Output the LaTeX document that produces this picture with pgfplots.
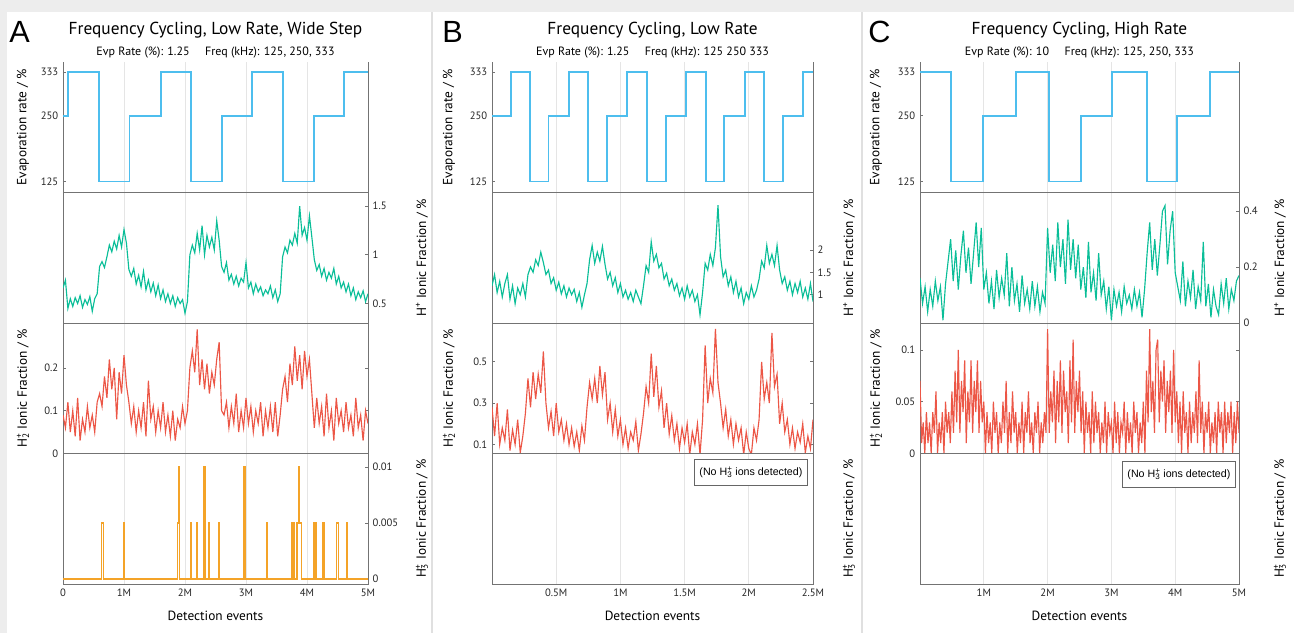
\documentclass[border=0pt]{standalone}
\usepackage{fontspec}
\setmainfont{PT Sans}
\newfontfamily\arialfont{Liberation Sans}
\usepackage{pgfplots}
\usepackage{pgfplotstable}
\pgfplotsset{compat=1.18}

\definecolor{evpblue}{RGB}{77,190,238}
\definecolor{hgreen}{RGB}{10,190,152}
\definecolor{hred}{RGB}{236,86,70}
\definecolor{horange}{RGB}{244,163,40}

% panel A: x, H+, H2+
\pgfplotstableread{
x g r
0.00 0.66 0.09
0.04 0.74 0.06
0.08 0.45 0.12
0.12 0.55 0.05
0.16 0.47 0.10
0.20 0.56 0.04
0.24 0.50 0.13
0.28 0.58 0.03
0.32 0.46 0.08
0.36 0.54 0.05
0.40 0.49 0.11
0.44 0.57 0.06
0.48 0.42 0.09
0.52 0.55 0.05
0.56 0.60 0.12
0.60 0.88 0.14
0.64 0.93 0.11
0.68 0.87 0.18
0.72 0.98 0.13
0.76 1.10 0.22
0.80 1.03 0.15
0.84 1.14 0.20
0.88 1.06 0.08
0.92 1.20 0.19
0.96 1.08 0.14
1.00 1.26 0.23
1.04 1.12 0.16
1.08 0.85 0.12
1.12 0.78 0.07
1.16 0.86 0.11
1.20 0.70 0.05
1.24 0.79 0.10
1.28 0.67 0.06
1.32 0.83 0.12
1.36 0.64 0.04
1.40 0.74 0.17
1.44 0.62 0.08
1.48 0.71 0.11
1.52 0.58 0.05
1.56 0.69 0.10
1.60 0.55 0.06
1.64 0.64 0.12
1.68 0.52 0.05
1.72 0.60 0.09
1.76 0.50 0.04
1.80 0.58 0.10
1.84 0.47 0.03
1.88 0.56 0.08
1.92 0.50 0.06
1.96 0.54 0.11
2.00 0.40 0.07
2.04 0.52 0.10
2.08 1.00 0.20
2.12 1.10 0.24
2.16 1.02 0.19
2.20 1.22 0.29
2.24 1.05 0.16
2.28 1.30 0.22
2.32 1.00 0.15
2.36 1.20 0.21
2.40 1.08 0.14
2.44 1.18 0.19
2.48 1.05 0.16
2.52 1.35 0.22
2.56 1.15 0.26
2.60 0.88 0.10
2.64 0.82 0.09
2.68 0.92 0.12
2.72 0.74 0.06
2.76 0.80 0.11
2.80 0.70 0.07
2.84 0.78 0.14
2.88 0.68 0.05
2.92 0.76 0.10
2.96 0.72 0.06
3.00 0.92 0.13
3.04 0.66 0.07
3.08 0.72 0.11
3.12 0.60 0.05
3.16 0.70 0.10
3.20 0.62 0.07
3.24 0.67 0.12
3.28 0.58 0.04
3.32 0.64 0.10
3.36 0.60 0.06
3.40 0.68 0.11
3.44 0.56 0.05
3.48 0.64 0.12
3.52 0.52 0.04
3.56 0.60 0.09
3.60 0.98 0.15
3.64 1.08 0.18
3.68 1.02 0.12
3.72 1.15 0.21
3.76 1.10 0.16
3.80 1.22 0.25
3.84 1.12 0.17
3.88 1.50 0.23
3.92 1.20 0.15
3.96 1.28 0.24
4.00 1.15 0.18
4.04 1.40 0.22
4.08 1.18 0.14
4.12 0.95 0.06
4.16 0.84 0.13
4.20 0.90 0.07
4.24 0.78 0.11
4.28 0.86 0.04
4.32 0.74 0.14
4.36 0.82 0.06
4.40 0.76 0.10
4.44 0.86 0.03
4.48 0.70 0.13
4.52 0.78 0.07
4.56 0.66 0.10
4.60 0.72 0.05
4.64 0.62 0.12
4.68 0.70 0.06
4.72 0.58 0.09
4.76 0.66 0.04
4.80 0.54 0.13
4.84 0.62 0.06
4.88 0.56 0.09
4.92 0.63 0.03
4.96 0.52 0.10
5.00 0.60 0.07
}\dataA

% panel B: x, H+, H2+
\pgfplotstableread{
x g r
0.00 1.20 0.28
0.02 1.45 0.14
0.04 1.05 0.30
0.06 1.30 0.10
0.08 0.95 0.18
0.10 1.25 0.12
0.12 1.45 0.27
0.14 0.90 0.07
0.16 1.20 0.17
0.18 0.80 0.10
0.20 1.15 0.22
0.22 1.00 0.06
0.24 1.25 0.14
0.26 0.95 0.25
0.28 1.45 0.42
0.30 1.62 0.28
0.32 1.50 0.45
0.34 1.78 0.32
0.36 1.65 0.44
0.38 1.95 0.35
0.40 1.72 0.55
0.42 1.45 0.30
0.44 1.55 0.18
0.46 1.25 0.26
0.48 1.38 0.14
0.50 1.10 0.30
0.52 1.28 0.16
0.54 1.02 0.22
0.56 1.20 0.12
0.58 0.95 0.20
0.60 1.15 0.10
0.62 1.00 0.18
0.64 1.12 0.09
0.66 0.85 0.16
0.68 1.05 0.07
0.70 0.72 0.19
0.72 1.00 0.12
0.74 1.25 0.28
0.76 1.78 0.40
0.78 2.10 0.32
0.80 1.70 0.42
0.82 1.95 0.30
0.84 1.75 0.48
0.86 2.08 0.34
0.88 1.68 0.45
0.90 1.35 0.22
0.92 1.50 0.30
0.94 1.20 0.16
0.96 1.38 0.27
0.98 1.05 0.14
1.00 1.25 0.22
1.02 0.95 0.10
1.04 1.10 0.18
1.06 0.90 0.08
1.08 1.05 0.16
1.10 0.85 0.12
1.12 1.10 0.21
1.14 0.95 0.07
1.16 0.80 0.15
1.18 1.20 0.25
1.20 1.65 0.38
1.22 1.50 0.30
1.24 2.18 0.54
1.26 1.75 0.33
1.28 1.90 0.48
1.30 1.60 0.28
1.32 1.70 0.36
1.34 1.35 0.18
1.36 1.48 0.30
1.38 1.20 0.15
1.40 1.35 0.24
1.42 1.10 0.12
1.44 1.25 0.20
1.46 0.98 0.08
1.48 1.15 0.18
1.50 0.90 0.11
1.52 1.20 0.20
1.54 0.95 0.05
1.56 1.10 0.16
1.58 0.85 0.10
1.60 1.00 0.20
1.62 0.55 0.05
1.64 1.05 0.22
1.66 1.70 0.58
1.68 1.55 0.30
1.70 1.90 0.42
1.72 1.65 0.35
1.74 2.05 0.66
1.76 3.00 0.40
1.78 1.85 0.30
1.80 1.40 0.18
1.82 1.55 0.27
1.84 1.20 0.14
1.86 1.40 0.22
1.88 1.05 0.10
1.90 1.30 0.20
1.92 0.95 0.12
1.94 1.15 0.18
1.96 0.80 0.05
1.98 1.05 0.16
2.00 0.90 0.08
2.02 1.20 0.05
2.04 0.95 0.18
2.06 1.10 0.12
2.08 1.35 0.22
2.10 1.75 0.50
2.12 1.60 0.32
2.14 2.10 0.40
2.16 1.70 0.30
2.18 1.90 0.64
2.20 1.65 0.38
2.22 2.10 0.44
2.24 1.55 0.20
2.26 1.25 0.30
2.28 1.40 0.16
2.30 1.10 0.22
2.32 1.30 0.10
2.34 1.00 0.18
2.36 1.25 0.08
2.38 1.05 0.16
2.40 1.30 0.11
2.42 0.95 0.20
2.44 1.15 0.06
2.46 0.90 0.14
2.48 1.25 0.08
2.50 0.85 0.22
}\dataB

% panel C: x, H+
\pgfplotstableread{
x g
0.00 0.16
0.04 0.07
0.08 0.13
0.12 0.04
0.16 0.12
0.20 0.06
0.24 0.15
0.28 0.08
0.32 0.13
0.36 0.01
0.40 0.14
0.44 0.22
0.48 0.30
0.52 0.15
0.56 0.26
0.60 0.12
0.64 0.24
0.68 0.33
0.72 0.18
0.76 0.27
0.80 0.14
0.84 0.25
0.88 0.36
0.92 0.20
0.96 0.34
1.00 0.12
1.04 0.18
1.08 0.07
1.12 0.15
1.16 0.05
1.20 0.19
1.24 0.09
1.28 0.16
1.32 0.10
1.36 0.25
1.40 0.06
1.44 0.20
1.48 0.08
1.52 0.14
1.56 0.04
1.60 0.17
1.64 0.07
1.68 0.12
1.72 0.05
1.76 0.15
1.80 0.06
1.84 0.13
1.88 0.04
1.92 0.11
1.96 0.07
2.00 0.34
2.04 0.18
2.08 0.28
2.12 0.15
2.16 0.36
2.20 0.20
2.24 0.30
2.28 0.14
2.32 0.37
2.36 0.19
2.40 0.30
2.44 0.16
2.48 0.28
2.52 0.12
2.56 0.20
2.60 0.09
2.64 0.29
2.68 0.11
2.72 0.18
2.76 0.08
2.80 0.25
2.84 0.10
2.88 0.15
2.92 0.05
2.96 0.13
3.00 0.01
3.04 0.12
3.08 0.06
3.12 0.11
3.16 0.04
3.20 0.13
3.24 0.07
3.28 0.10
3.32 0.05
3.36 0.12
3.40 0.06
3.44 0.11
3.48 0.02
3.52 0.12
3.56 0.25
3.60 0.36
3.64 0.19
3.68 0.30
3.72 0.17
3.76 0.28
3.80 0.40
3.84 0.42
3.88 0.21
3.92 0.33
3.96 0.40
4.00 0.18
4.04 0.13
4.08 0.08
4.12 0.22
4.16 0.06
4.20 0.15
4.24 0.09
4.28 0.19
4.32 0.05
4.36 0.13
4.40 0.08
4.44 0.29
4.48 0.06
4.52 0.14
4.56 0.02
4.60 0.12
4.64 0.06
4.68 0.03
4.72 0.14
4.76 0.07
4.80 0.16
4.84 0.05
4.88 0.12
4.92 0.08
4.96 0.15
5.00 0.17
}\dataCg

% panel C: x, H2+
\pgfplotstableread{
x r
0.000 0.07
0.025 0.01
0.050 0.03
0.075 0
0.100 0.04
0.125 0.01
0.150 0.03
0.175 0
0.200 0.04
0.225 0.02
0.250 0.06
0.275 0
0.300 0.03
0.325 0.01
0.350 0.04
0.375 0
0.400 0.05
0.425 0.02
0.450 0.04
0.475 0.01
0.500 0.06
0.525 0.02
0.550 0.08
0.575 0.03
0.600 0.10
0.625 0.02
0.650 0.07
0.675 0.04
0.700 0.09
0.725 0.01
0.750 0.06
0.775 0.03
0.800 0.09
0.825 0.02
0.850 0.07
0.875 0.04
0.900 0.09
0.925 0.02
0.950 0.07
0.975 0.03
1.000 0.05
1.025 0
1.050 0.04
1.075 0.01
1.100 0.03
1.125 0
1.150 0.05
1.175 0.02
1.200 0.04
1.225 0
1.250 0.03
1.275 0.01
1.300 0.05
1.325 0.02
1.350 0.07
1.375 0
1.400 0.04
1.425 0.01
1.450 0.06
1.475 0.02
1.500 0.04
1.525 0
1.550 0.03
1.575 0.01
1.600 0.05
1.625 0
1.650 0.04
1.675 0.02
1.700 0.06
1.725 0.01
1.750 0.03
1.775 0
1.800 0.04
1.825 0.02
1.850 0.05
1.875 0
1.900 0.03
1.925 0.01
1.950 0.04
1.975 0.02
2.000 0.12
2.025 0.02
2.050 0.06
2.075 0.03
2.100 0.08
2.125 0.01
2.150 0.07
2.175 0.03
2.200 0.09
2.225 0.02
2.250 0.08
2.275 0.04
2.300 0.06
2.325 0.01
2.350 0.09
2.375 0.03
2.400 0.11
2.425 0.02
2.450 0.07
2.475 0.04
2.500 0.08
2.525 0.02
2.550 0.06
2.575 0
2.600 0.05
2.625 0.02
2.650 0.04
2.675 0
2.700 0.06
2.725 0.01
2.750 0.05
2.775 0.02
2.800 0.04
2.825 0
2.850 0.03
2.875 0.01
2.900 0.05
2.925 0
2.950 0.04
2.975 0.02
3.000 0.03
3.025 0
3.050 0.05
3.075 0.01
3.100 0.04
3.125 0
3.150 0.03
3.175 0.02
3.200 0.05
3.225 0
3.250 0.04
3.275 0.01
3.300 0.03
3.325 0
3.350 0.05
3.375 0.02
3.400 0.04
3.425 0
3.450 0.03
3.475 0.01
3.500 0.05
3.525 0
3.550 0.08
3.575 0.03
3.600 0.12
3.625 0.04
3.650 0.07
3.675 0.02
3.700 0.10
3.725 0.11
3.750 0.03
3.775 0.08
3.800 0.05
3.825 0.09
3.850 0.02
3.875 0.07
3.900 0.04
3.925 0.08
3.950 0.02
3.975 0.10
4.000 0.03
4.025 0.06
4.050 0.01
4.075 0.05
4.100 0
4.125 0.06
4.150 0.02
4.175 0.04
4.200 0
4.225 0.05
4.250 0.01
4.275 0.04
4.300 0.02
4.325 0.06
4.350 0.01
4.375 0.09
4.400 0.02
4.425 0.05
4.450 0
4.475 0.04
4.500 0.02
4.525 0.05
4.550 0
4.575 0.03
4.600 0.01
4.625 0.04
4.650 0
4.675 0.05
4.700 0.02
4.725 0.04
4.750 0
4.775 0.05
4.800 0.01
4.825 0.04
4.850 0.02
4.875 0.05
4.900 0
4.925 0.04
4.950 0.01
4.975 0.05
5.000 0.02
}\dataCr

\pgfplotsset{
  base/.style={
    scale only axis, height=97.875pt, anchor=south west, xmin=0,
    axis line style={black!55, -}, tick style={black!55, line width=0.5pt},
    xmajorgrids, major grid style={black!10, line width=0.5pt},
    tick align=inside, major tick length=2.5pt,
    xtick style={draw=none}, xticklabels={},
    scaled y ticks=false, scaled x ticks=false,
    ticklabel style={font=\fontsize{8}{9}\selectfont, text=black!85},
  },
  colA/.style={xmax=5, width=228.75pt, xtick={0,1,2,3,4,5}},
  colB/.style={xmax=2.5, width=240.75pt, xtick={0.5,1,1.5,2,2.5}},
  colC/.style={xmax=5, width=239.25pt, xtick={1,2,3,4,5}},
  rowone/.style={ymin=104, ymax=352, ytick={125,250,333}, yticklabels={125,250,333},
    ytick pos=left, axis x line*=bottom},
  onright/.style={ytick pos=right, yticklabel pos=right},
  stepline/.style={evpblue, line width=1.4pt, const plot},
  noisy/.style={line width=0.85pt},
}

\newcommand\Hp{H\textsuperscript{+}}
\newcommand\Htwo{H\rlap{\textsuperscript{+}}\textsubscript{2}}
\newcommand\Hthree{H\rlap{\textsuperscript{+}}\textsubscript{3}}

\begin{document}
\begin{tikzpicture}
\path[use as bounding box] (0,0) rectangle (970.5pt,474.75pt);
\fill[black!7] (0,0) rectangle (970.5pt,474.75pt);
\fill[white] (5.25pt,0) rectangle (970.5pt,465.75pt);
\draw[black!12, line width=0.8pt] (324pt,0) -- (324pt,465.75pt);
\draw[black!12, line width=0.8pt] (646.5pt,0) -- (646.5pt,465.75pt);

% ---------- column A ----------
\begin{axis}[base, colA, rowone, at={(47.25pt,330.375pt)}]
\addplot[stepline] coordinates {(0,250)(0.08,333)(0.59,125)(1.09,250)(1.6,333)(2.1,125)(2.6,250)(3.1,333)(3.61,125)(4.11,250)(4.61,333)(5,333)};
\end{axis}
\begin{axis}[base, colA, onright, at={(47.25pt,232.5pt)}, ymin=0.3, ymax=1.64,
  ytick={0.5,1,1.5}, yticklabels={0.5,1,1.5}]
\addplot[noisy, hgreen] table[x=x, y=g] {\dataA};
\end{axis}
\begin{axis}[base, colA, at={(47.25pt,134.625pt)}, ymin=0, ymax=0.305,
  ytick={0,0.1,0.2}, yticklabels={0,0.1,0.2}]
\addplot[noisy, hred] table[x=x, y=r] {\dataA};
\end{axis}
\begin{axis}[base, colA, onright, at={(47.25pt,36.75pt)}, ymin=-0.00045, ymax=0.0112,
  ytick={0,0.005,0.01}, yticklabels={0,0.005,0.01}, xticklabels={0,1M,2M,3M,4M,5M}]
\addplot[horange, line width=0.9pt] coordinates {
(0,0)(0.63,0)(0.63,0.005)(0.66,0.005)(0.66,0)
(0.99,0)(0.99,0.005)(1.01,0.005)(1.01,0)
(1.88,0)(1.88,0.005)(1.895,0.005)(1.895,0.01)(1.915,0.01)(1.915,0)
(2.09,0)(2.09,0.005)(2.11,0.005)(2.11,0)
(2.19,0)(2.19,0.005)(2.21,0.005)(2.21,0)
(2.31,0)(2.31,0.01)(2.33,0.01)(2.33,0)
(2.385,0)(2.385,0.005)(2.405,0.005)(2.405,0)
(2.55,0)(2.55,0.005)(2.57,0.005)(2.57,0)
(2.955,0)(2.955,0.01)(2.985,0.01)(2.985,0)
(3.33,0)(3.33,0.005)(3.35,0.005)(3.35,0)
(3.745,0)(3.745,0.005)(3.765,0.005)(3.765,0)
(3.78,0)(3.78,0.005)(3.80,0.005)(3.80,0)
(3.835,0)(3.835,0.005)(3.86,0.005)(3.86,0.01)(3.88,0.01)(3.88,0.005)(3.905,0.005)(3.905,0)
(4.105,0)(4.105,0.005)(4.12,0.005)(4.12,0)
(4.14,0)(4.14,0.005)(4.16,0.005)(4.16,0)
(4.26,0)(4.26,0.005)(4.28,0.005)(4.28,0)
(4.49,0)(4.49,0.005)(4.51,0.005)(4.51,0)
(4.65,0)(4.65,0.005)(4.67,0.005)(4.67,0)
(5,0)};
\end{axis}

% ---------- column B ----------
\begin{axis}[base, colB, rowone, at={(369pt,330.375pt)}]
\addplot[stepline] coordinates {(0,250)(0.148,333)(0.293,125)(0.44,250)(0.597,333)(0.748,125)(0.896,250)(1.05,333)(1.21,125)(1.357,250)(1.51,333)(1.664,125)(1.81,250)(1.968,333)(2.115,125)(2.266,250)(2.42,333)(2.5,333)};
\end{axis}
\begin{axis}[base, colB, onright, at={(369pt,232.5pt)}, ymin=0.37, ymax=3.28,
  ytick={1,1.5,2}, yticklabels={1,1.5,2}]
\addplot[noisy, hgreen] table[x=x, y=g] {\dataB};
\end{axis}
\begin{axis}[base, colB, at={(369pt,134.625pt)}, ymin=0.056, ymax=0.688,
  ytick={0.1,0.3,0.5}, yticklabels={0.1,0.3,0.5}]
\addplot[noisy, hred] table[x=x, y=r] {\dataB};
\end{axis}
\begin{axis}[base, colB, at={(369pt,36.75pt)}, ymin=0, ymax=1, ytick=\empty,
  xticklabels={0.5M,1M,1.5M,2M,2.5M}]
\node[draw=black!60, fill=white, anchor=north east, font=\arialfont\fontsize{8}{9}\selectfont,
  inner xsep=4pt, minimum height=19.5pt, xshift=-3.75pt, yshift=-4.1pt] at (rel axis cs:1,1) {(No \Hthree\ ions detected)};
\end{axis}

% ---------- column C ----------
\begin{axis}[base, colC, rowone, at={(690pt,330.375pt)}]
\addplot[stepline] coordinates {(0,333)(0.49,125)(0.99,250)(1.51,333)(2.02,125)(2.52,250)(3.01,333)(3.56,125)(4.03,250)(4.55,333)(5,333)};
\end{axis}
\begin{axis}[base, colC, onright, at={(690pt,232.5pt)}, ymin=0, ymax=0.467,
  ytick={0,0.2,0.4}, yticklabels={0,0.2,0.4}]
\addplot[noisy, hgreen] table[x=x, y=g] {\dataCg};
\end{axis}
\begin{axis}[base, colC, at={(690pt,134.625pt)}, ymin=0, ymax=0.126,
  ytick={0,0.05,0.1}, yticklabels={0,0.05,0.1}]
\addplot[noisy, hred] table[x=x, y=r] {\dataCr};
\end{axis}
\begin{axis}[base, colC, at={(690pt,36.75pt)}, ymin=0, ymax=1, ytick=\empty,
  xticklabels={1M,2M,3M,4M,5M}]
\node[draw=black!60, fill=white, anchor=north east, font=\arialfont\fontsize{8}{9}\selectfont,
  inner xsep=4pt, minimum height=19.5pt, xshift=-2.25pt, yshift=-5.6pt] at (rel axis cs:1,1) {(No \Hthree\ ions detected)};
\end{axis}

% ---------- titles ----------
\foreach \cx/\ttl/\sub in {161.6/{Frequency Cycling, Low Rate, Wide Step}/{Evp Rate (\%): 1.25\hspace{1.3em}Freq (kHz): 125, 250, 333},
  489.4/{Frequency Cycling, Low Rate}/{Evp Rate (\%): 1.25\hspace{1.3em}Freq (kHz): 125 250 333},
  809.6/{Frequency Cycling, High Rate}/{Evp Rate (\%): 10\hspace{1.3em}Freq (kHz): 125, 250, 333}}{
  \node[anchor=base, font=\fontsize{13}{15}\selectfont] at (\cx pt,448.5pt) {\ttl};
  \node[anchor=base, font=\fontsize{9}{11}\selectfont] at (\cx pt,432.75pt) {\sub};
  \node[anchor=base, font=\fontsize{10}{12}\selectfont] at (\cx pt,9.75pt) {Detection events};
}
\node[anchor=base west, inner sep=0, font=\arialfont\fontsize{23}{25}\selectfont] at (6.75pt,442.5pt) {A};
\node[anchor=base west, inner sep=0, font=\arialfont\fontsize{23}{25}\selectfont] at (331.5pt,442.5pt) {B};
\node[anchor=base west, inner sep=0, font=\arialfont\fontsize{23}{25}\selectfont] at (651pt,442.5pt) {C};

% ---------- y labels ----------
\foreach \lx/\rx in {17.25/316.5, 336.75/636.75, 657/960}{
  \node[rotate=90, font=\fontsize{10}{12}\selectfont] at (\lx pt,379.3pt) {Evaporation rate / \%};
  \node[rotate=90, font=\fontsize{10}{12}\selectfont] at (\rx pt,281.4pt) {\Hp\ Ionic Fraction / \%};
  \node[rotate=90, font=\fontsize{10}{12}\selectfont] at (\lx pt,183.6pt) {\Htwo\ Ionic Fraction / \%};
  \node[rotate=90, font=\fontsize{10}{12}\selectfont] at (\rx pt,85.7pt) {\Hthree\ Ionic Fraction / \%};
}
\end{tikzpicture}
\end{document}
